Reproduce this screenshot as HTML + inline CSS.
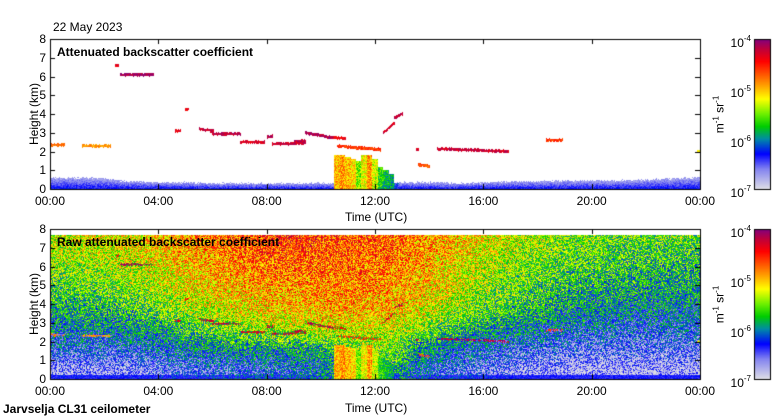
<!DOCTYPE html>
<html><head><meta charset="utf-8">
<style>
body{margin:0;background:#fff;}
#wrap{position:relative;width:780px;height:420px;overflow:hidden;font-family:"Liberation Sans",sans-serif;color:#000;background:#fff;}
.t{position:absolute;font-size:12px;white-space:nowrap;line-height:12px;}
.b{font-weight:bold;}
canvas{position:absolute;}
</style></head>
<body>
<div id="wrap">
<canvas id="cv" width="780" height="420" style="left:0;top:0"></canvas>
<div class="t" style="left:53px;top:21px">22 May 2023</div>
<div class="t b" style="left:57px;top:46px">Attenuated backscatter coefficient</div>
<div class="t b" style="left:57px;top:236px">Raw attenuated backscatter coefficient</div>
<div class="t" style="left:345px;top:211px">Time (UTC)</div>
<div class="t" style="left:345px;top:402px">Time (UTC)</div>
<div class="t b" style="left:3px;top:403px">Jarvselja CL31 ceilometer</div>
<div class="t" style="left:-1px;top:108px;transform:rotate(-90deg);width:70px;text-align:center">Height (km)</div>
<div class="t" style="left:-1px;top:298px;transform:rotate(-90deg);width:70px;text-align:center">Height (km)</div>
<div class="t" style="left:688px;top:107px;transform:rotate(-90deg);width:60px;text-align:center">m<sup style="font-size:8px">-1</sup> sr<sup style="font-size:8px">-1</sup></div>
<div class="t" style="left:688px;top:297px;transform:rotate(-90deg);width:60px;text-align:center">m<sup style="font-size:8px">-1</sup> sr<sup style="font-size:8px">-1</sup></div>
<div id="labels"></div>
</div>
<script>
// ---- data ----
const xTickLabels = ["00:00","04:00","08:00","12:00","16:00","20:00","00:00"];
const xTickHours = [0,4,8,12,16,20,24];
const yTickLabels = ["0","1","2","3","4","5","6","7","8"];
const cbExponents = [-4,-5,-6,-7];
// raw backscatter log10 grid: rows = height bands 0-1..7-8 km, cols = hours 0..23
const rawRow0 = [-6.7,-6.7,-6.7,-6.65,-6.5,-6.45,-6.4,-6.35,-6.3,-6.2,-6.0,-5.6,-5.7,-6.2,-6.4,-6.5,-6.6,-6.7,-6.75,-6.8,-6.8,-6.8,-6.8,-6.8];
const rawRow1 = [-6.35,-6.35,-6.35,-6.3,-6.2,-6.1,-6.0,-6.0,-5.95,-5.9,-5.8,-5.5,-5.5,-5.9,-6.1,-6.2,-6.3,-6.4,-6.45,-6.5,-6.5,-6.5,-6.5,-6.5];
const rawRow2 = [-6.1,-6.1,-6.05,-6.0,-5.9,-5.7,-5.6,-5.5,-5.4,-5.35,-5.3,-5.3,-5.35,-5.5,-5.7,-5.9,-6.0,-6.1,-6.2,-6.25,-6.3,-6.3,-6.3,-6.3];
const rawRow3 = [-5.9,-5.85,-5.8,-5.7,-5.55,-5.4,-5.3,-5.2,-5.1,-5.05,-5.0,-5.0,-5.05,-5.2,-5.4,-5.55,-5.7,-5.8,-5.9,-6.0,-6.05,-6.1,-6.1,-6.1];
const rawRow4 = [-5.7,-5.65,-5.6,-5.5,-5.35,-5.2,-5.1,-5.0,-4.95,-4.9,-4.9,-4.9,-4.95,-5.05,-5.2,-5.4,-5.55,-5.65,-5.75,-5.85,-5.9,-5.9,-5.95,-5.95];
const rawRow5 = [-5.55,-5.5,-5.45,-5.35,-5.2,-5.05,-4.95,-4.85,-4.8,-4.8,-4.8,-4.8,-4.85,-4.95,-5.1,-5.3,-5.45,-5.55,-5.65,-5.7,-5.75,-5.8,-5.8,-5.8];
const rawRow6 = [-5.4,-5.35,-5.3,-5.2,-5.05,-4.95,-4.85,-4.75,-4.7,-4.7,-4.75,-4.75,-4.8,-4.9,-5.0,-5.2,-5.35,-5.45,-5.55,-5.6,-5.65,-5.7,-5.7,-5.7];
const rawRow7 = [-5.3,-5.25,-5.2,-5.1,-4.95,-4.85,-4.75,-4.65,-4.6,-4.6,-4.65,-4.7,-4.75,-4.85,-4.95,-5.1,-5.25,-5.35,-5.45,-5.5,-5.55,-5.6,-5.6,-5.6];
const rawMaxKm = 7.7;
// boundary layer (top panel)
const blHours = [0,1,2,3,4,5,6,7,8,9,10,11,12,13,14,15,16,17,18,19,20,21,22,23,24];
const blTops = [0.6,0.6,0.55,0.4,0.35,0.35,0.3,0.3,0.3,0.3,0.3,0.3,0.3,0.35,0.35,0.3,0.35,0.4,0.4,0.45,0.45,0.45,0.5,0.55,0.6];
// precipitation columns
const precipHours = [10.6,10.8,11.0,11.2,11.4,11.6,11.8,12.0,12.2,12.4,12.6,12.8];
const precipTops = [1.8,1.8,1.7,1.6,1.5,1.8,1.8,1.6,1.2,1.0,0.8,0.3];
const precipLogs = [-5.0,-4.9,-5.0,-5.1,-5.5,-5.2,-4.9,-5.3,-5.7,-5.8,-5.9,-6.3];
// cloud segments
const cloudStart = [0.0,1.2,2.4,2.6,4.6,5.0,5.5,6.0,6.5,7.0,8.0,8.2,9.0,9.4,10.4,10.6,12.3,12.7,13.5,13.6,14.3,18.3,23.9];
const cloudEnd   = [0.5,2.2,2.5,3.8,4.8,5.1,6.0,6.5,7.0,7.9,8.2,9.4,9.4,10.4,10.9,12.2,12.7,13.0,13.6,14.0,16.9,18.9,24.0];
const cloudKmA   = [2.35,2.3,6.6,6.1,3.1,4.25,3.2,2.95,2.95,2.5,2.8,2.4,2.55,3.0,2.75,2.3,3.0,3.8,2.1,1.3,2.15,2.6,2.0];
const cloudKmB   = [2.35,2.3,6.6,6.1,3.1,4.25,3.1,2.95,2.95,2.5,2.8,2.45,2.55,2.75,2.7,2.1,3.5,4.0,2.1,1.2,2.0,2.6,2.0];
const cloudLogs  = [-4.8,-4.9,-4.4,-4.1,-4.4,-4.4,-4.25,-4.2,-4.2,-4.3,-4.15,-4.25,-4.2,-4.15,-4.4,-4.6,-4.3,-4.2,-4.3,-4.7,-4.25,-4.6,-5.2];

// ---- geometry ----
const X0=50,X1=700,PW=650;
const panels=[{top:39,bot:189},{top:229,bot:379}];
const xs=h=>X0+h/24*PW;
const ys=(p,km)=>p.bot-km/8*(p.bot-p.top);
const stops=[[-7,[222,222,230]],[-6.6,[130,130,240]],[-6.3,[0,0,255]],[-6.0,[0,140,165]],[-5.75,[0,205,0]],[-5.5,[110,240,0]],[-5.2,[255,255,0]],[-4.9,[255,150,0]],[-4.45,[255,0,0]],[-4.2,[190,0,60]],[-4,[128,0,128]]];
function cmap(v){
  if(v<=-7)return stops[0][1]; if(v>=-4)return stops[stops.length-1][1];
  for(let i=1;i<stops.length;i++){if(v<=stops[i][0]){const a=stops[i-1],b=stops[i],t=(v-a[0])/(b[0]-a[0]);return a[1].map((c,k)=>Math.round(c+(b[1][k]-c)*t));}}
}
function hash(x,y,s){let n=(x*374761393+y*668265263+s*1442695041)|0;n=(n^(n>>>13))*1274126177|0;n=n^(n>>>16);return ((n>>>0)%10000)/10000-0.5;}
const rawRows=[rawRow0,rawRow1,rawRow2,rawRow3,rawRow4,rawRow5,rawRow6,rawRow7];
function rawAt(h,km){
  let c=h-0.5,r=km-0.5;c=Math.max(0,Math.min(22.999,c));r=Math.max(0,Math.min(6.999,r));
  const ci=Math.floor(c),ri=Math.floor(r),fc=c-ci,fr=r-ri;
  const a=rawRows[ri][ci],b=rawRows[ri][ci+1],d=rawRows[ri+1][ci],e=rawRows[ri+1][ci+1];
  return (a*(1-fc)+b*fc)*(1-fr)+(d*(1-fc)+e*fc)*fr;
}
function blTopAt(h){const i=Math.min(23,Math.floor(h)),f=h-i;return blTops[i]*(1-f)+blTops[i+1]*f;}
function precipAt(h,km){
  for(let i=0;i<precipHours.length;i++){if(h>=precipHours[i]-0.1&&h<precipHours[i]+0.1&&km<precipTops[i])return precipLogs[i];}
  return null;
}
function cloudAt(h,km,n,thick){
  for(let i=0;i<cloudStart.length;i++){
    if(h>=cloudStart[i]&&h<=cloudEnd[i]+0.04){
      const f=cloudEnd[i]>cloudStart[i]?(h-cloudStart[i])/(cloudEnd[i]-cloudStart[i]):0;
      const k=cloudKmA[i]+(cloudKmB[i]-cloudKmA[i])*Math.min(1,f);
      if(Math.abs(km-k)<thick+n*0.06)return cloudLogs[i];
    }
  }
  return null;
}
const cv=document.getElementById('cv'),ctx=cv.getContext('2d');
ctx.fillStyle='#fff';ctx.fillRect(0,0,780,420);
panels.forEach((p,pi)=>{
  const H=p.bot-p.top;const img=ctx.createImageData(PW,H);
  for(let py=0;py<H;py++){for(let px=0;px<PW;px++){
    const h=(px+0.5)/PW*24,km=(H-py-0.5)/H*8;let v=null;
    const n=hash(px,py,pi),n2=hash(px,py,pi+7);
    const cl=cloudAt(h,km,n2,pi===0?0.08:0.055),pr=precipAt(h,km);
    if(cl!==null&&(pi===0||n>-0.2))v=cl+n*0.3-(pi===1?0.05:0);
    else if(pr!==null)v=pr+n*0.6;
    else if(pi===0){const t=blTopAt(h);if(km<t+n*0.12){v=-6.3-0.45*(km/t)+n*0.25;}}
    else if(km<rawMaxKm){v=rawAt(h,km)+n*1.1;if(km<0.2)v=Math.max(v,-6.35+n*0.2);}
    const o=(py*PW+px)*4;
    if(v===null){img.data[o]=255;img.data[o+1]=255;img.data[o+2]=255;}
    else{const c=cmap(v);img.data[o]=c[0];img.data[o+1]=c[1];img.data[o+2]=c[2];}
    img.data[o+3]=255;
  }}
  ctx.putImageData(img,X0,p.top);
  ctx.strokeStyle='#000';ctx.lineWidth=1;
  ctx.strokeRect(X0+0.5,p.top+0.5,PW,H);
  ctx.beginPath();
  xTickHours.forEach(hh=>{const x=Math.round(xs(hh))+0.5;ctx.moveTo(x,p.top);ctx.lineTo(x,p.top+5);ctx.moveTo(x,p.bot);ctx.lineTo(x,p.bot-5);});
  yTickLabels.forEach((l,i)=>{const y=Math.round(ys(p,i))+0.5;ctx.moveTo(X0,y);ctx.lineTo(X0+5,y);ctx.moveTo(X1,y);ctx.lineTo(X1-5,y);});
  ctx.stroke();
  const cx=754,cw=16;
  for(let y=p.top;y<p.bot;y++){const v=-4-3*(y-p.top+0.5)/H;const c=cmap(v);ctx.fillStyle=`rgb(${c[0]},${c[1]},${c[2]})`;ctx.fillRect(cx,y,cw,1);}
  ctx.strokeRect(cx+0.5,p.top+0.5,cw,H);
});
const L=document.getElementById('labels');
function lab(txt,x,y,name,align){
  const d=document.createElement('div');d.className='t';d.innerHTML=txt;
  d.style.left=x+'px';d.style.top=y+'px';
  if(align==='r'){d.style.transform='translateX(-100%)';}
  if(align==='c'){d.style.transform='translateX(-50%)';}
  
  
  L.appendChild(d);
}
panels.forEach((p,pi)=>{
  xTickLabels.forEach((l,i)=>lab(l,xs(xTickHours[i]),p.bot+6,'x-tick-label','c'));
  yTickLabels.forEach((l,i)=>lab(l,46,ys(p,i)-6,'y-tick-label','r'));
  cbExponents.forEach((e,i)=>lab('10<sup style="font-size:8px;vertical-align:6px">'+e+'</sup>',751,p.top+i*50-6,'colorbar-tick-label','r'));
});
</script>
</body></html>
